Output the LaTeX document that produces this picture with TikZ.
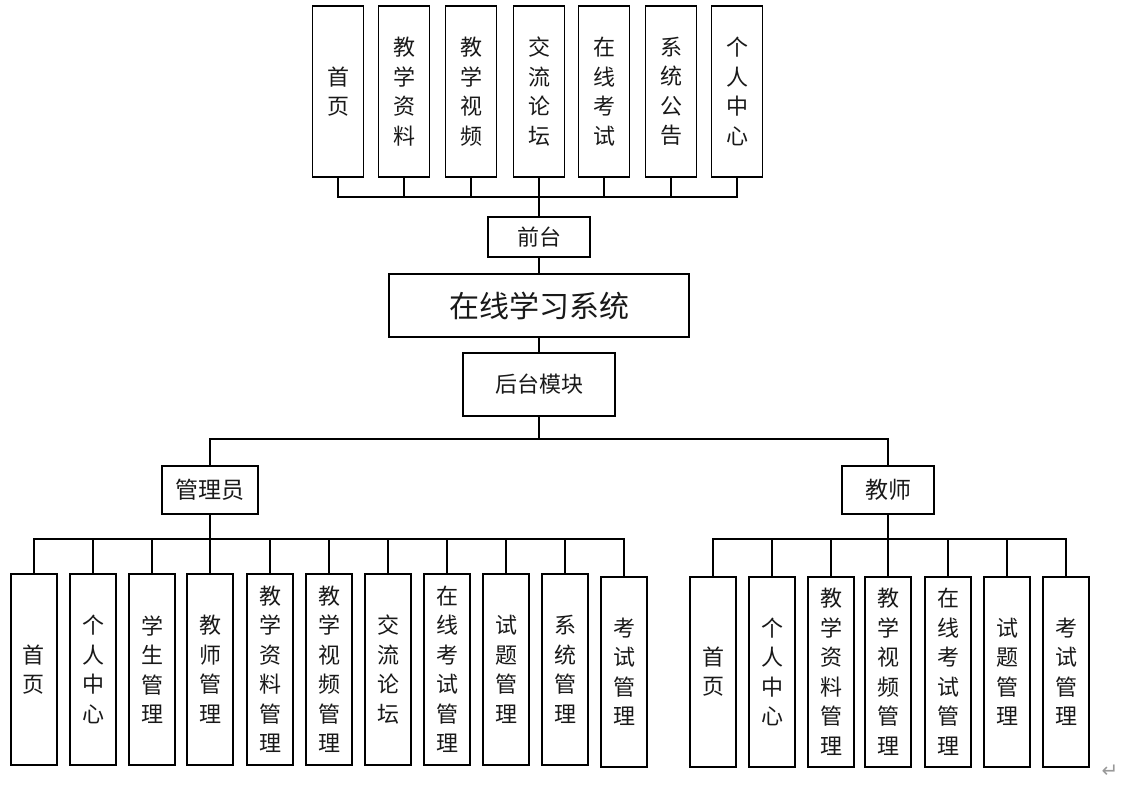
\documentclass[tikz,border=0pt]{standalone}
\usepackage{fontspec}
\newfontfamily\cjk{Noto Sans CJK SC}
\newfontfamily\dejavu{DejaVu Sans}
\begin{document}
\begin{tikzpicture}[x=1pt,y=-1pt,
  every node/.style={inner sep=0pt,outer sep=0pt},
  bx/.style={draw=black,line width=1.8pt,fill=white,align=center,text=black!90,
    font=\cjk\fontsize{22}{29.5}\selectfont},
  tb/.style={bx,minimum width=51pt,minimum height=171pt},
  ab/.style={bx,minimum width=45.5pt,minimum height=190.4pt},
  conn/.style={line width=2pt,draw=black}]
\useasboundingbox (0,0) rectangle (1145,785);

% top row
\node[tb] (t1) at (338,91.5) {首\\页};
\node[tb] (t2) at (404,91.5) {教\\学\\资\\料};
\node[tb] (t3) at (471,91.5) {教\\学\\视\\频};
\node[tb] (t4) at (539,91.5) {交\\流\\论\\坛};
\node[tb] (t5) at (604,91.5) {在\\线\\考\\试};
\node[tb] (t6) at (671,91.5) {系\\统\\公\\告};
\node[tb] (t7) at (737,91.5) {个\\人\\中\\心};

\node[bx,minimum width=102.3pt,minimum height=40.3pt] (front) at (539,237.2) {前台};
\node[bx,minimum width=300.3pt,minimum height=63pt,font=\cjk\fontsize{30}{36}\selectfont] (sys) at (539,305.8) {在线学习系统};
\node[bx,minimum width=152.6pt,minimum height=63pt] (back) at (539,384.2) {后台模块};

\node[bx,minimum width=95.5pt,minimum height=48.3pt,font=\cjk\fontsize{23}{28}\selectfont] (admin) at (210,490) {管理员};
\node[bx,minimum width=91.3pt,minimum height=48.3pt,font=\cjk\fontsize{23}{28}\selectfont] (teacher) at (888,490) {教师};

% admin children
\node[ab] (a1) at (34,669.5) {首\\页};
\node[ab] (a2) at (93,669.5) {个\\人\\中\\心};
\node[ab] (a3) at (152,669.5) {学\\生\\管\\理};
\node[ab] (a4) at (210,669.5) {教\\师\\管\\理};
\node[ab] (a5) at (270,669.5) {教\\学\\资\\料\\管\\理};
\node[ab] (a6) at (329,669.5) {教\\学\\视\\频\\管\\理};
\node[ab] (a7) at (388,669.5) {交\\流\\论\\坛};
\node[ab] (a8) at (447,669.5) {在\\线\\考\\试\\管\\理};
\node[ab] (a9) at (506,669.5) {试\\题\\管\\理};
\node[ab] (a10) at (565,669.5) {系\\统\\管\\理};
\node[ab] (a11) at (624,671.8) {考\\试\\管\\理};

% teacher children
\node[ab] (b1) at (713,671.8) {首\\页};
\node[ab] (b2) at (772,671.8) {个\\人\\中\\心};
\node[ab] (b3) at (831,671.8) {教\\学\\资\\料\\管\\理};
\node[ab] (b4) at (888,671.8) {教\\学\\视\\频\\管\\理};
\node[ab] (b5) at (948,671.8) {在\\线\\考\\试\\管\\理};
\node[ab] (b6) at (1007,671.8) {试\\题\\管\\理};
\node[ab] (b7) at (1066,671.8) {考\\试\\管\\理};

\node[text=black!40,font=\dejavu\fontsize{20}{20}\selectfont] (ret) at (1110,771) {↵};

% connectors
\coordinate (fbus) at (539,197);
\draw[conn] (t1.south) |- (fbus) -| (t7.south);
\foreach \k in {2,3,5,6} \draw[conn] (t\k.south) -- (t\k.south |- fbus);
\draw[conn] (t4.south) -- (front.north);
\draw[conn] (front.south) -- (sys.north);
\draw[conn] (sys.south) -- (back.north);

\coordinate (bbus) at (539,439);
\draw[conn] (back.south) -- (bbus);
\draw[conn] (admin.north) |- (bbus) -| (teacher.north);

\coordinate (abus) at (210,539);
\draw[conn] (admin.south) -- (a4.north);
\draw[conn] (a1.north) |- (abus) -| (a11.north);
\foreach \k in {2,3,5,6,7,8,9,10} \draw[conn] (a\k.north) -- (a\k.north |- abus);

\coordinate (tbus) at (888,539);
\draw[conn] (teacher.south) -- (b4.north);
\draw[conn] (b1.north) |- (tbus) -| (b7.north);
\foreach \k in {2,3,5,6} \draw[conn] (b\k.north) -- (b\k.north |- tbus);
\end{tikzpicture}
\end{document}
